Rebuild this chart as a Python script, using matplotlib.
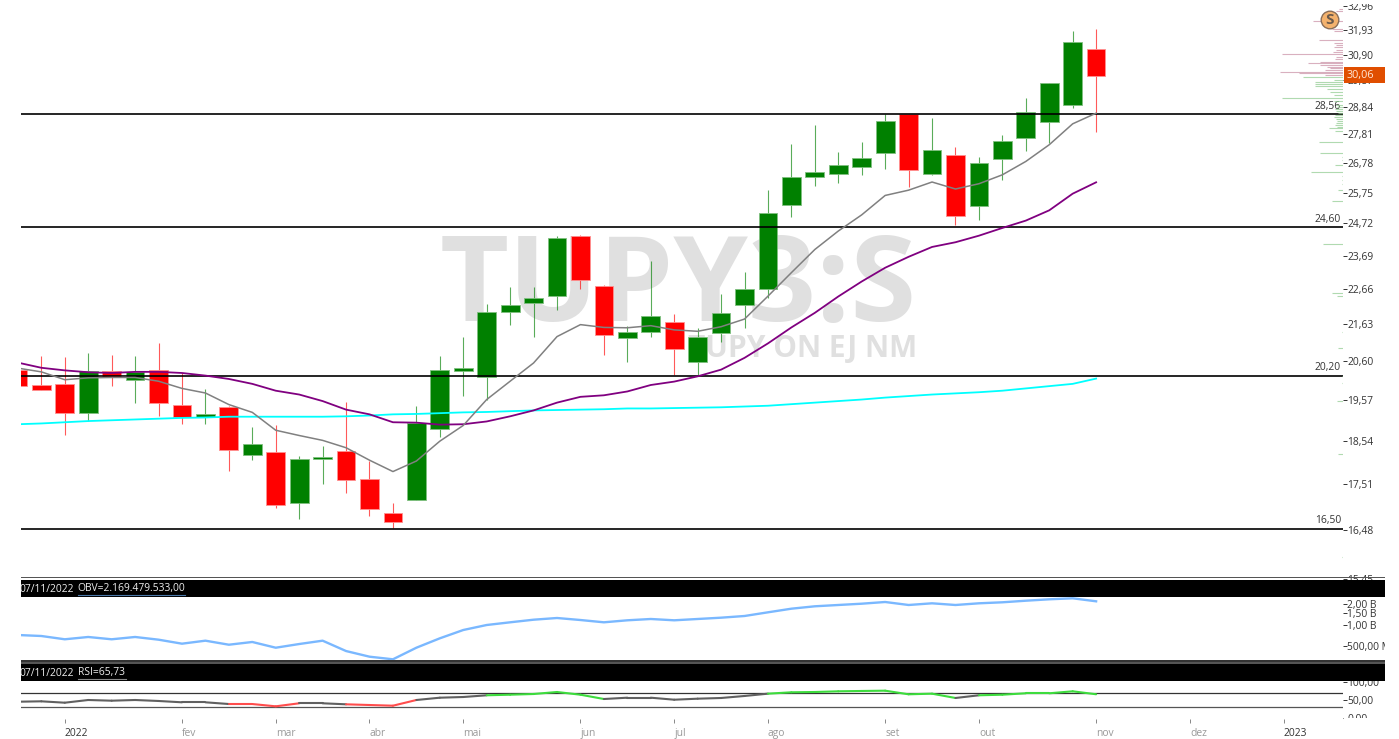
import matplotlib
matplotlib.use("Agg")
from matplotlib import pyplot as plt
from matplotlib.patches import Rectangle, Circle

plt.rcParams['font.family'] = ['Open Sans', 'DejaVu Sans']

W = 1399
H = 739

# weekly candles
opens = [20.37, 19.96, 19.99, 19.24, 20.32, 20.08, 20.37, 19.43, 19.14, 19.39,
         18.19, 18.26, 17.07, 18.11, 18.30, 17.63, 16.85, 17.15, 18.84, 20.34,
         20.17, 21.97, 22.25, 22.46, 24.31, 22.75, 21.23, 21.41, 21.69, 20.59,
         21.37, 22.18, 22.65, 25.34, 26.27, 26.38, 26.62, 27.13, 28.57, 26.40,
         27.05, 25.28, 26.92, 27.68, 28.26, 28.92, 31.13]
closes = [19.94, 19.84, 19.24, 20.32, 20.16, 20.31, 19.49, 19.13, 19.20, 18.31,
          18.45, 17.02, 18.11, 18.14, 17.60, 16.93, 16.66, 18.99, 20.35, 20.41,
          21.98, 22.19, 22.41, 24.26, 22.95, 21.33, 21.40, 21.87, 20.94, 21.27,
          21.95, 22.66, 25.06, 26.30, 26.47, 26.72, 26.94, 28.30, 26.54, 27.24,
          24.95, 26.78, 27.55, 28.63, 29.77, 31.42, 30.06]
highs = [20.50, 20.73, 20.71, 20.83, 20.78, 20.73, 21.09, 20.29, 19.86, 19.41,
         18.89, 18.92, 18.17, 18.42, 19.51, 18.05, 17.08, 19.42, 20.73, 21.28,
         22.23, 22.73, 22.73, 24.32, 24.35, 22.78, 21.57, 23.53, 21.93, 21.53,
         22.50, 23.18, 25.85, 27.45, 28.16, 27.17, 27.53, 28.55, 28.58, 28.43,
         27.35, 26.99, 27.80, 29.19, 29.77, 31.89, 31.97]
lows = [19.84, 19.84, 18.67, 19.03, 19.93, 19.49, 19.15, 18.95, 18.95, 17.81,
        18.07, 16.97, 16.71, 17.51, 17.30, 16.79, 16.53, 17.15, 18.63, 19.68,
        19.58, 21.62, 21.26, 22.05, 22.65, 20.78, 20.59, 21.26, 20.23, 20.23,
        21.12, 21.51, 22.41, 24.92, 25.96, 26.08, 26.34, 26.58, 25.94, 26.37,
        24.68, 24.82, 26.17, 27.20, 27.51, 28.79, 27.88]

ma_short = [20.41, 20.31, 20.10, 20.15, 20.16, 20.16, 20.06, 19.87, 19.75, 19.45,
            19.25, 18.80, 18.67, 18.55, 18.37, 18.07, 17.80, 18.05, 18.53, 18.92,
            19.58, 20.06, 20.55, 21.28, 21.62, 21.54, 21.53, 21.59, 21.47, 21.43,
            21.56, 21.78, 22.45, 23.16, 23.88, 24.47, 25.00, 25.65, 25.83, 26.11,
            25.87, 26.05, 26.36, 26.83, 27.43, 28.20, 28.60]
ma_mid = [20.56, 20.42, 20.35, 20.30, 20.28, 20.31, 20.31, 20.28, 20.21, 20.12,
          19.99, 19.81, 19.71, 19.54, 19.32, 19.20, 19.00, 18.99, 18.94, 18.95,
          19.02, 19.15, 19.30, 19.50, 19.65, 19.69, 19.79, 19.96, 20.05, 20.19,
          20.37, 20.69, 21.09, 21.54, 21.96, 22.44, 22.89, 23.31, 23.65, 23.96,
          24.11, 24.32, 24.57, 24.81, 25.15, 25.71, 26.10]
ma_long = [18.95, 18.97, 19.00, 19.03, 19.05, 19.07, 19.09, 19.11, 19.12, 19.14,
           19.14, 19.14, 19.14, 19.14, 19.15, 19.17, 19.20, 19.21, 19.23, 19.25,
           19.26, 19.28, 19.30, 19.31, 19.32, 19.33, 19.35, 19.35, 19.36, 19.37,
           19.38, 19.40, 19.42, 19.46, 19.50, 19.54, 19.58, 19.63, 19.67, 19.71,
           19.74, 19.77, 19.81, 19.87, 19.93, 19.99, 20.13]

obv = [0.721, 0.698, 0.627, 0.676, 0.627, 0.676, 0.619, 0.543, 0.599, 0.525,
       0.574, 0.476, 0.537, 0.599, 0.427, 0.355, 0.326, 0.476, 0.647, 0.849,
       1.000, 1.092, 1.189, 1.257, 1.177, 1.092, 1.166, 1.217, 1.166, 1.217,
       1.270, 1.342, 1.514, 1.704, 1.843, 1.923, 2.006, 2.121, 1.923, 2.032,
       1.923, 2.032, 2.100, 2.212, 2.316, 2.393, 2.169]
rsi = [45.3, 46.4, 42.6, 50.0, 48.1, 50.0, 47.3, 43.7, 43.7, 39.0,
       39.0, 32.7, 41.0, 41.0, 38.2, 36.3, 34.4, 50.0, 56.3, 58.2,
       62.9, 64.5, 66.4, 71.9, 64.5, 52.7, 56.3, 56.3, 50.8, 53.6,
       55.5, 61.0, 67.3, 71.1, 71.9, 73.8, 74.7, 75.5, 65.6, 67.3,
       55.5, 62.9, 64.5, 68.4, 68.4, 73.8, 65.73]

levels = [28.56, 24.60, 20.20, 16.50]
level_labels = ["28,56", "24,60", "20,20", "16,50"]

price_ticks = [32.96, 31.93, 30.90, 29.87, 28.84, 27.81, 26.78, 25.75, 24.72,
               23.69, 22.66, 21.63, 20.60, 19.57, 18.54, 17.51, 16.48, 15.45]
obv_ticks = [2.0, 1.5, 1.0, 0.5]
obv_tick_labels = ["2,00 B", "1,50 B", "1,00 B", "500,00 M"]
rsi_ticks = [100, 50, 0]
rsi_tick_labels = ["100,00", "50,00", "0,00"]

month_pos = [2, 7, 11, 15, 19, 24, 28, 32, 37, 41, 46, 50, 54]
month_names = ["2022", "fev", "mar", "abr", "mai", "jun", "jul", "ago", "set",
               "out", "nov", "dez", "2023"]

# volume at price, sells above the last close
vp_sell_price = [32.82, 32.75, 32.33, 31.96, 31.89, 31.51, 31.40, 31.30, 31.21, 31.10,
                 31.03, 30.93, 30.82, 30.72, 30.62, 30.56, 30.49, 30.42, 30.36, 30.29,
                 30.22, 30.16, 30.09]
vp_sell_vol = [4, 7, 30, 11, 9, 24, 9, 7, 9, 7, 10, 61, 7, 8, 23, 35, 23, 16, 13, 18, 63, 44, 18]
vp_buy_price = [30.00, 29.89, 29.80, 29.73, 29.63, 29.53, 29.43, 29.30, 29.17, 29.05,
                28.92, 28.84, 28.77, 28.69, 28.62, 28.54, 28.46, 28.39, 28.32, 28.24,
                28.17, 28.09, 28.04, 27.95, 27.53, 27.14, 27.00, 26.89, 26.69, 26.46,
                26.33, 26.19, 26.05, 25.85, 25.45, 24.06, 22.53, 22.44, 21.42, 20.95,
                20.21, 20.02, 19.54, 18.21, 15.89]
vp_buy_vol = [40, 9, 28, 28, 28, 16, 13, 9, 61, 9,
              7, 6, 8, 7, 5, 8, 9, 7, 6, 7,
              8, 6, 14, 8, 24, 23, 1, 1, 8, 32,
              1, 1, 1, 5, 11, 20, 11, 6, 1, 5,
              1, 1, 6, 5, 1]

x = list(range(len(closes)))


def panel(top, bottom):
    # axes from pixel rows of the screen
    a = fig.add_axes([21 / W, 1 - bottom / H, (1342.7 - 21) / W, (bottom - top) / H])
    a.set_facecolor('none')
    for s in a.spines.values():
        s.set_visible(False)
    a.set_xlim(0.132, 56.52)
    a.yaxis.tick_right()
    a.tick_params(axis='y', which='major', length=2.6, width=0.7, color='#333333', pad=0.8,
                  labelsize=7.4, labelcolor='#333333')
    a.tick_params(axis='y', which='minor', length=0)
    a.set_xticks([])
    return a


fig = plt.figure(figsize=(W / 100, H / 100), dpi=100, facecolor='white')

# watermark goes under the candles
fig.text(917 / W, 1 - 321 / H, "TUPY3:S", ha='right', va='baseline', fontsize=86,
         fontweight='bold', color='#e0e0e0', zorder=-1)
fig.text(917 / W, 1 - 357 / H, "TUPY ON EJ NM", ha='right', va='baseline', fontsize=21.5,
         fontweight='bold', color='#e0e0e0', zorder=-1)

ax = panel(0, 582)

# volume profile hangs from the right edge, on its own x scale
vp = ax.twiny()
vp.set_xlim(1321.7, 0)
vp.set_xticks([])
vp.set_facecolor('none')
for s in vp.spines.values():
    s.set_visible(False)
vp.hlines(vp_sell_price, 0, vp_sell_vol, color='#c98fa5', lw=0.8, alpha=0.7)
vp.hlines(vp_buy_price, 0, vp_buy_vol, color='#8fcb8f', lw=0.8, alpha=0.7)

ax.set_yscale('log')
ax.set_ylim(15.38, 33.22)
ax.set_yticks(price_ticks, [format(t, '.2f').replace('.', ',') for t in price_ticks])
ax.minorticks_off()

for i in x:
    col = '#ff0000' if closes[i] < opens[i] else '#008000'
    edge = '#ff9090' if closes[i] < opens[i] else '#80bf80'
    ax.plot([i, i], [lows[i], highs[i]], color=col, lw=0.8, alpha=0.65, zorder=2,
            solid_capstyle='butt')
    ax.bar(i, abs(closes[i] - opens[i]), bottom=min(opens[i], closes[i]), width=0.8,
           color=col, edgecolor=edge, linewidth=0.6, zorder=3)

ax.plot(x, ma_long, color='#00ffff', lw=1.3, zorder=4)
ax.plot(x, ma_mid, color='#800080', lw=1.3, zorder=4)
ax.plot(x, ma_short, color='#808080', lw=1.1, zorder=4)

for l, t in zip(levels, level_labels):
    ax.axhline(l, color='#000000', lw=1.2, zorder=3.5)
    ax.annotate(t, (1, l), xycoords=('axes fraction', 'data'), xytext=(-1.2, 1.8),
                textcoords='offset points', ha='right', va='bottom', fontsize=7.4,
                color='#333333')

ax_obv = panel(597, 660)
ax_obv.set_yscale('log')
ax_obv.set_ylim(0.3186, 2.497)
ax_obv.set_yticks(obv_ticks, obv_tick_labels)
ax_obv.minorticks_off()
ax_obv.plot(x, obv, color='#7ab8ff', lw=1.7, zorder=3)

ax_rsi = panel(681, 719)
ax_rsi.set_ylim(-2, 102)
ax_rsi.set_yticks(rsi_ticks, rsi_tick_labels)
ax_rsi.axhline(70, color='#333333', lw=0.9)
ax_rsi.axhline(30, color='#555555', lw=0.9)
for i in x[:-1]:
    # colour follows the value at the start of the segment
    if rsi[i] > 62.5:
        c = '#3ddc3d'
    elif rsi[i] < 40:
        c = '#ff4d4d'
    else:
        c = '#606060'
    ax_rsi.plot([i, i + 1], [rsi[i], rsi[i + 1]], color=c, lw=1.5, zorder=3,
                solid_capstyle='round')

ax_rsi.set_xticks(month_pos, month_names)
ax_rsi.tick_params(axis='x', length=3, width=0.7, color='#888888', pad=9.1, labelsize=7.4)
for lab, name in zip(ax_rsi.get_xticklabels(), month_names):
    lab.set_ha('left')
    lab.set_va('baseline')
    lab.set_color('#333333' if name.isdigit() else '#999999')

# screen furniture on top of everything, in pixels
ov = fig.add_axes([0, 0, 1, 1], zorder=10)
ov.set_xlim(0, W)
ov.set_ylim(H, 0)
ov.axis('off')
ov.patch.set_visible(False)

ov.add_patch(Rectangle((21, 576.5), 1364, 1.8, color='#555555', lw=0))
ov.add_patch(Rectangle((21, 580), 1364, 17.3, color='#000000', lw=0))
ov.add_patch(Rectangle((21, 660), 1364, 2.2, color='#333333', lw=0))
ov.add_patch(Rectangle((21, 662.2), 1364, 1.8, color='#555555', lw=0))
ov.add_patch(Rectangle((21, 664), 1364, 17.3, color='#000000', lw=0))

ov.text(19, 589, "07/11/2022", color='#eeeeee', fontsize=7.4, va='center', ha='left')
ov.text(77.7, 589, "OBV=2.169.479.533,00", color='#eeeeee', fontsize=7.4, va='center', ha='left')
ov.plot([77.7, 185], [594.5, 594.5], color='#4a78a8', lw=0.8)
ov.text(19, 673, "07/11/2022", color='#eeeeee', fontsize=7.4, va='center', ha='left')
ov.text(77.7, 673, "RSI=65,73", color='#eeeeee', fontsize=7.4, va='center', ha='left')
ov.plot([77.7, 126], [678.5, 678.5], color='#888888', lw=0.8)

# masks that cut the labels at the panel borders
ov.add_patch(Rectangle((0, 578), 21, 110, color='white', lw=0))
ov.add_patch(Rectangle((1344, 0), 55, 3.5, color='white', lw=0))
ov.add_patch(Rectangle((1344, 718), 55, 8, color='white', lw=0))
ov.add_patch(Rectangle((1385, 597.3), 14, 63, color='white', lw=0))

# last price tag
ov.add_patch(Rectangle((1344, 67.3), 41, 15.4, color='#e04e00', lw=0))
ov.text(1347, 75.3, "30,06", color='#ffe8d8', fontsize=7.8, va='center', ha='left')

ov.add_patch(Circle((1330, 20), 8.8, facecolor='#f4b26d', edgecolor='#8a6e58', lw=1))
ov.text(1330, 19.6, "S", color='#6b5a4c', fontsize=11, fontweight='bold', ha='center', va='center')

fig.savefig("out.png", dpi=100)
